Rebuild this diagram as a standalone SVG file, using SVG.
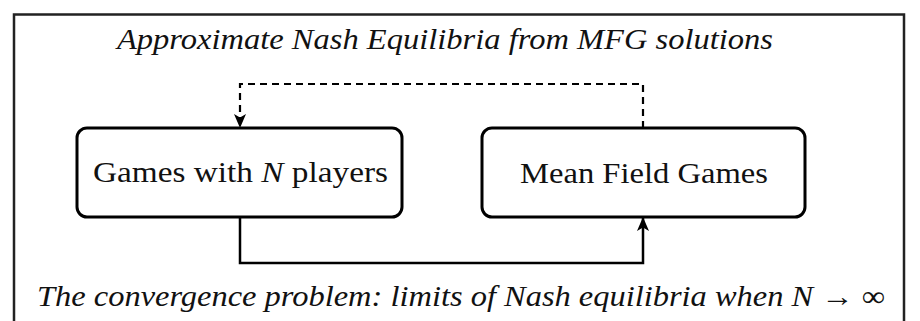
<svg xmlns="http://www.w3.org/2000/svg" width="920" height="321" viewBox="0 0 920 321">
  <style>
    .frame { fill: none; stroke: #222; stroke-width: 2.5; }
    .node rect { fill: #fff; stroke: #000; stroke-width: 3; }
    .label { font-family: 'Liberation Serif', 'Times New Roman', Times, serif; font-size: 29px; fill: #111; }
    .caption { font-family: 'Liberation Serif', 'Times New Roman', Times, serif; font-size: 29px; font-style: italic; fill: #111; }
    .wire { fill: none; stroke: #000; stroke-width: 2.5; }
    .dashed { stroke-width: 2.2; stroke-dasharray: 7 5; }
  </style>
  <defs>
    <marker id="tip" markerWidth="16" markerHeight="16" refX="13" refY="8" orient="auto" markerUnits="userSpaceOnUse">
      <path d="M0,2 L14,8 L0,14 L3.5,8 Z" fill="#000"/>
    </marker>
  </defs>

  <!-- outer frame, open at the bottom -->
  <path class="frame" d="M14,330 V14.5 H904 V330"/>

  <text class="caption" x="445" y="49" text-anchor="middle" textLength="656" lengthAdjust="spacingAndGlyphs">Approximate Nash Equilibria from MFG solutions</text>

  <g id="connectors">
    <path class="wire dashed" d="M643,128 V84 H240 V127" marker-end="url(#tip)"/>
    <path class="wire" d="M240,217 V263 H643 V218" marker-end="url(#tip)"/>
  </g>

  <g id="n-player" class="node">
    <rect x="77" y="128" width="325" height="89" rx="10"/>
    <text class="label" x="240.5" y="182" text-anchor="middle" textLength="295" lengthAdjust="spacingAndGlyphs">Games with <tspan font-style="italic">N</tspan> players</text>
  </g>

  <g id="mean-field" class="node">
    <rect x="482" y="128" width="323" height="89" rx="10"/>
    <text class="label" x="644" y="183" text-anchor="middle" textLength="248" lengthAdjust="spacingAndGlyphs">Mean Field Games</text>
  </g>

  <text class="caption" x="461" y="306" text-anchor="middle" textLength="848" lengthAdjust="spacingAndGlyphs">The convergence problem: limits of Nash equilibria when N <tspan font-style="normal">→ ∞</tspan></text>
</svg>
